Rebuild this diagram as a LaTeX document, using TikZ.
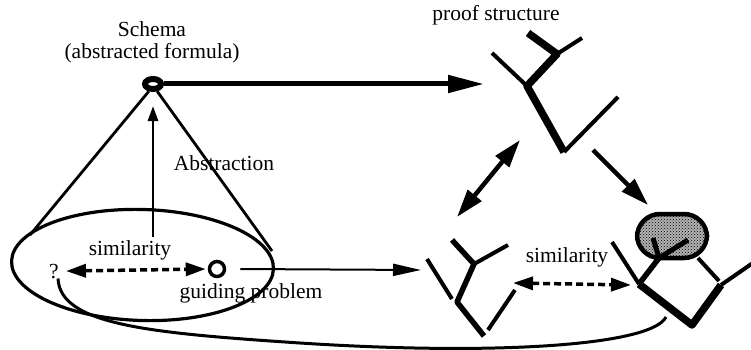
\documentclass[tikz,border=0pt]{standalone}
\usepackage{fontspec}
\setmainfont{Liberation Serif}
\usetikzlibrary{arrows.meta,shapes.geometric,patterns}
\begin{document}
\begin{tikzpicture}[x=1pt,y=-1pt,
  lbl/.style={font=\fontsize{21.5}{24}\selectfont, inner sep=0pt, anchor=base},
  cone/.style={line width=2.8pt},
  thickbr/.style={line width=7.5pt, line join=round},
  midbr/.style={line width=5.5pt, line join=round},
  thinbr/.style={line width=4pt},
  bigarrow/.style={line width=5pt, -{Triangle[length=36pt,width=17pt]}},
  diagarrow/.style={line width=4.5pt, -{Triangle[length=28pt,width=17pt]}},
  diagdouble/.style={line width=4.5pt, {Triangle[length=28pt,width=17pt]}-{Triangle[length=28pt,width=17pt]}},
  simarrow/.style={line width=3.5pt, dash pattern=on 7pt off 4pt, {Triangle[length=20pt,width=13pt]}-{Triangle[length=20pt,width=13pt]}},
  thinarrow/.style={line width=2pt, -{Triangle[length=28pt,width=12pt]}},
]
\useasboundingbox (0,0) rectangle (751,350);

% ---- labels
\node[lbl] (schema) at (152,37) {Schema};
\node[lbl] (schemasub) at (152,59) {(abstracted formula)};
\node[lbl] (abstr) at (224,170) {Abstraction};
\node[lbl] (simL) at (130,255) {similarity};
\node[lbl] (q) at (54,278) {?};
\node[lbl] (guide) at (251,298) {guiding problem};
\node[lbl] (proof) at (496,21) {proof structure};
\node[lbl] (simR) at (567,262) {similarity};

% ---- cone
\node[draw, ellipse, line width=3.2pt, minimum width=262pt, minimum height=111pt,
      rotate=-1.7, inner sep=0pt] (base) at (142.5,265) {};
\coordinate (coneL) at (30,235);
\coordinate (coneR) at (272,251);
\coordinate (vbot) at (153,237);
\node[draw, ellipse, line width=6pt, minimum width=16pt, minimum height=10pt,
      inner sep=0pt, fill=white] (apex) at (153,84) {};
\draw[cone] (apex.240) -- (coneL);
\draw[cone] (apex.300) -- (coneR);
\draw[cone, -{Triangle[length=15pt,width=10pt]}, shorten >=14pt] (vbot) -- (apex.south);

% ---- guiding problem
\node[draw, circle, line width=3.5pt, minimum size=15pt, inner sep=0pt] (gp) at (217,269) {};
\draw[simarrow, shorten >=2pt] ([xshift=7pt]q.east) -- (gp.west);
\coordinate (lt) at (421,270);
\draw[thinarrow] ([xshift=14pt]gp.east) -- (lt);

% ---- big arrow to proof structure
\coordinate (pin) at (484,84);
\draw[bigarrow] (apex.east) -- (pin);

% ---- top proof tree
\coordinate (A) at (527,86);
\coordinate (B) at (564,152);
\coordinate (C) at (557,54);
\coordinate (L1) at (492,53);
\coordinate (L2) at (528,33);
\coordinate (L3) at (582,38);
\coordinate (L4) at (618,97);
\draw[thinbr] (L1) -- (A);
\draw[thickbr] (L2) -- (C) -- (A) -- (B);
\draw[thinbr] (C) -- (L3);
\draw[thinbr] (B) -- (L4);

% ---- bottom-left tree
\coordinate (P) at (474,264);
\coordinate (Q) at (457,302);
\coordinate (R) at (484,336);
\coordinate (PL) at (452,240);
\coordinate (PR) at (508,245);
\coordinate (S1) at (427,259);
\coordinate (S2) at (452,299);
\coordinate (T1) at (515,290);
\coordinate (T2) at (488,330);
\draw[midbr] (PL) -- (P) -- (Q) -- (R);
\draw[thinbr] (P) -- (PR);
\draw[thinbr] (S1) -- (S2);
\draw[thinbr] (T1) -- (T2);

% ---- bottom-right tree
\node[draw, rounded corners=23pt, line width=4.5pt, minimum width=70pt, minimum height=44pt,
      preaction={fill=gray!60}, pattern=crosshatch dots, pattern color=black] (blob) at (672,236) {};
\coordinate (J) at (659,258);
\coordinate (Y1) at (653,238);
\coordinate (Y2) at (688,240);
\coordinate (K) at (639,284);
\coordinate (KL) at (612,242);
\coordinate (M) at (692,325);
\coordinate (N) at (721,285);
\coordinate (NE) at (760,258);
\coordinate (U1) at (698,258);
\coordinate (U2) at (719,281);
\draw[line width=5pt, line join=round] (Y1) -- (J) -- (Y2);
\draw[midbr] (J) -- (K);
\draw[thinbr] (KL) -- (K);
\draw[thickbr] (K) -- (M) -- (N);
\draw[thinbr] (N) -- (NE);
\draw[thinbr] (U1) -- (U2);

% ---- arrows between trees
\coordinate (d1) at (520,140);
\coordinate (d2) at (457,217);
\draw[diagdouble] (d1) -- (d2);
\coordinate (e1) at (593,150);
\coordinate (e2) at (648,205);
\draw[diagarrow] (e1) -- (e2);
\coordinate (sl) at (513,283);
\coordinate (sr) at (631,285);
\draw[simarrow] (sl) -- (sr);

% ---- long curve
\coordinate (rc) at (666,317);
\draw[line width=3pt] ([xshift=4pt]q.south) .. controls (60,325) and (150,333) .. (300,343)
   .. controls (500,356) and (652,345) .. (rc);
\end{tikzpicture}
\end{document}
